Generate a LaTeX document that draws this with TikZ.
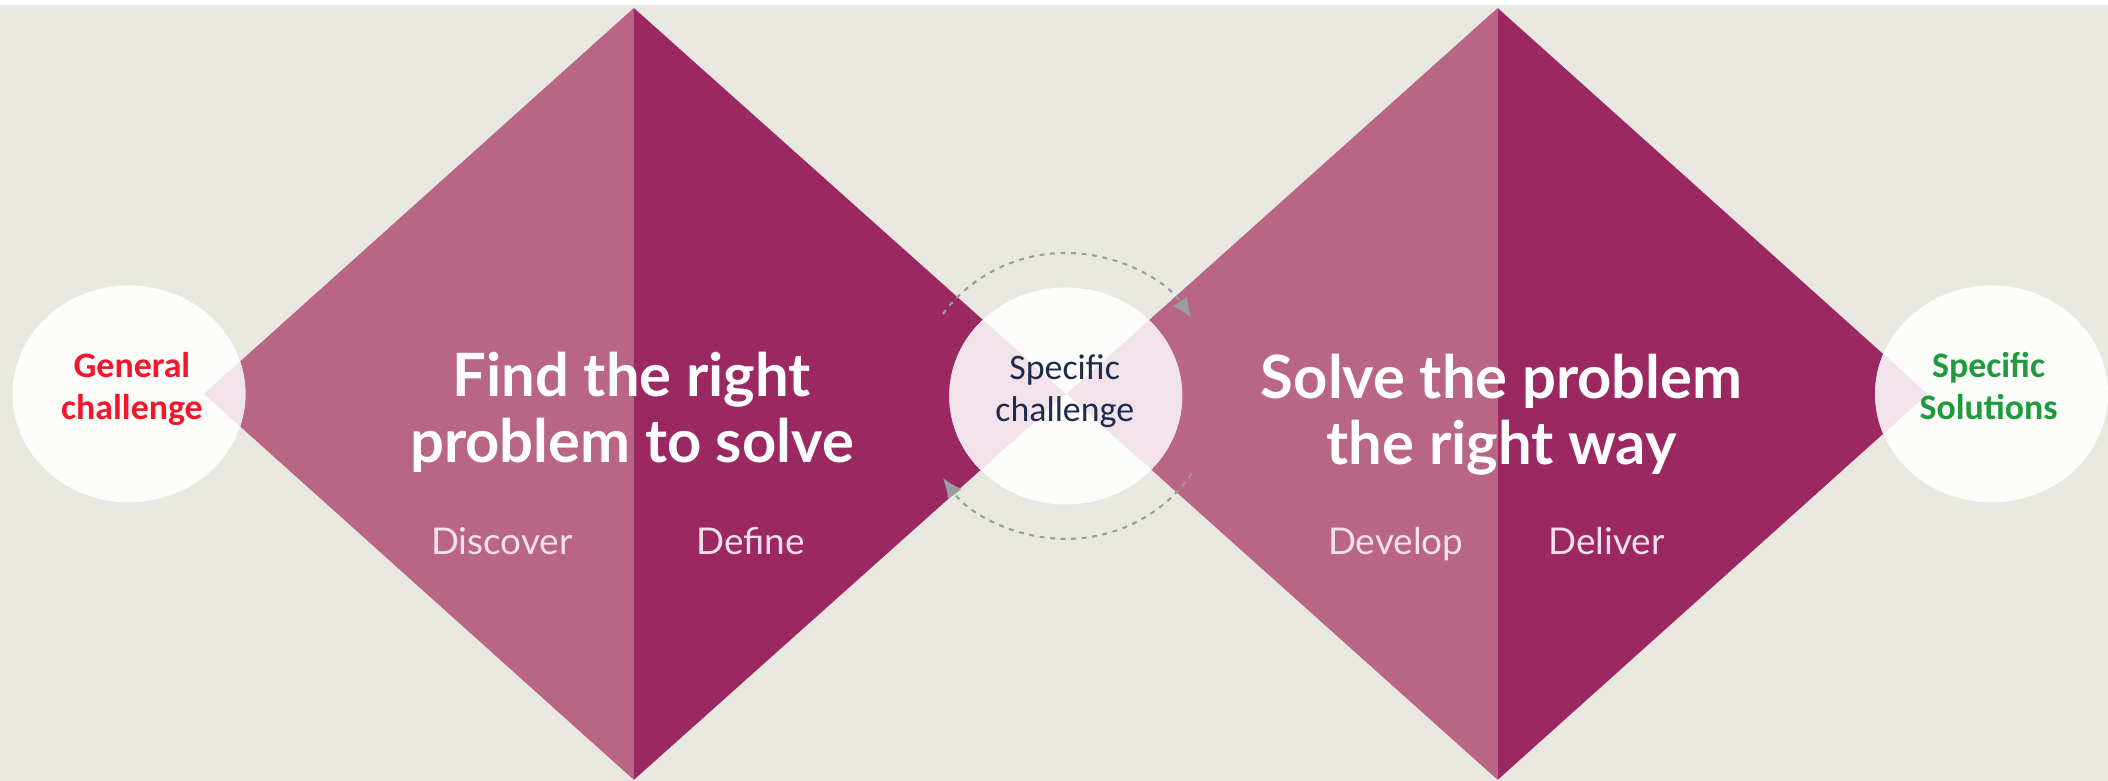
\documentclass[tikz,border=0pt]{standalone}
\usepackage{fontspec}
\setmainfont{Lato}
\newfontfamily\labelfont{Carlito}
\usetikzlibrary{shapes.geometric,arrows.meta}
\definecolor{backdrop}{HTML}{E9E8E0}
\definecolor{plumlight}{HTML}{B86586}
\definecolor{plumdark}{HTML}{9C2862}
\definecolor{plumtint}{HTML}{F2E2EA}
\definecolor{bubblewhite}{HTML}{FCFCFA}
\definecolor{loopgrey}{HTML}{9C9C9C}
\definecolor{phasetxt}{HTML}{F3E0EA}
\definecolor{startred}{HTML}{F2162B}
\definecolor{midnavy}{HTML}{1F2B4D}
\definecolor{endgreen}{HTML}{1F9A3C}

\begin{document}
\begin{tikzpicture}
      \tikzstyle{every node}+=[inner sep=0pt]
      \tikzstyle{bubble}=[ellipse, fill=bubblewhite, minimum width=2.33cm, minimum height=2.17cm]
      \tikzstyle{headline}=[white, align=center, anchor=base, font=\fontsize{17}{18.8}\selectfont\bfseries]
      \tikzstyle{phase}=[phasetxt, anchor=base, font=\fontsize{10.5}{12}\selectfont]
      \tikzstyle{bubbletxt}=[align=center, anchor=base, font=\labelfont\bfseries\fontsize{10.2}{12}\selectfont]
      \tikzstyle{cycleline}=[loopgrey, line width=0.6pt, dash pattern=on 1.4pt off 1.6pt, -{Latex[length=2mm,width=1.7mm]}]
      % backdrop
      \fill [white] (0,0) rectangle (21.08,-7.81);
      \fill [backdrop] (0,-0.05) rectangle (21.08,-7.81);
      % first diamond
      \fill [plumlight] (6.34,-0.08) -- (2.04,-3.94) -- (6.34,-7.80) -- cycle;
      \fill [plumdark] (6.34,-0.08) -- (10.66,-3.94) -- (6.34,-7.80) -- cycle;
      % second diamond
      \fill [plumlight] (14.98,-0.08) -- (10.67,-3.94) -- (14.98,-7.80) -- cycle;
      \fill [plumdark] (14.98,-0.08) -- (19.28,-3.94) -- (14.98,-7.80) -- cycle;
      % bubbles
      \node [bubble] (general) at (1.29,-3.94) {};
      \node [bubble] (specific) at (10.66,-3.96) {};
      \node [bubble] (solutions) at (19.92,-3.94) {};
      \begin{scope}
        \clip (general.center) ellipse (1.165 and 1.085);
        \fill [plumtint] (6.34,-0.08) -- (2.04,-3.94) -- (6.34,-7.80) -- cycle;
      \end{scope}
      \begin{scope}
        \clip (specific.center) ellipse (1.165 and 1.085);
        \fill [plumtint] (6.34,-0.08) -- (10.66,-3.94) -- (6.34,-7.80) -- cycle;
        \fill [plumtint] (14.98,-0.08) -- (10.67,-3.94) -- (14.98,-7.80) -- cycle;
      \end{scope}
      \begin{scope}
        \clip (solutions.center) ellipse (1.165 and 1.085);
        \fill [plumtint] (14.98,-0.08) -- (19.28,-3.94) -- (14.98,-7.80) -- cycle;
      \end{scope}
      % iteration arcs
      \draw [cycleline] ([shift={(145:1.50 and 1.43)}]specific.center) arc [start angle=145, end angle=33, x radius=1.50, y radius=1.43];
      \draw [cycleline] ([shift={(-33:1.50 and 1.43)}]specific.center) arc [start angle=-33, end angle=-145, x radius=1.50, y radius=1.43];
      % texts
      \node [headline] (findtxt) at (6.32,-4.63) {Find the right\\problem to solve};
      \node [headline] (solvetxt) at (15.02,-4.65) {Solve the problem\\the right way};
      \node [phase] (discover) at (5.02,-5.55) {Discover};
      \node [phase] (define) at (7.51,-5.55) {Define};
      \node [phase] (develop) at (13.96,-5.55) {Develop};
      \node [phase] (deliver) at (16.07,-5.55) {Deliver};
      \node [bubbletxt, startred] (generaltxt) at (1.32,-4.20) {General\\challenge};
      \node [bubbletxt, midnavy, font=\labelfont\fontsize{10.2}{12}\selectfont] (specifictxt) at (10.65,-4.22) {Specific\\challenge};
      \node [bubbletxt, endgreen] (solutionstxt) at (19.89,-4.20) {Specific\\Solutions};
\end{tikzpicture}
\end{document}
